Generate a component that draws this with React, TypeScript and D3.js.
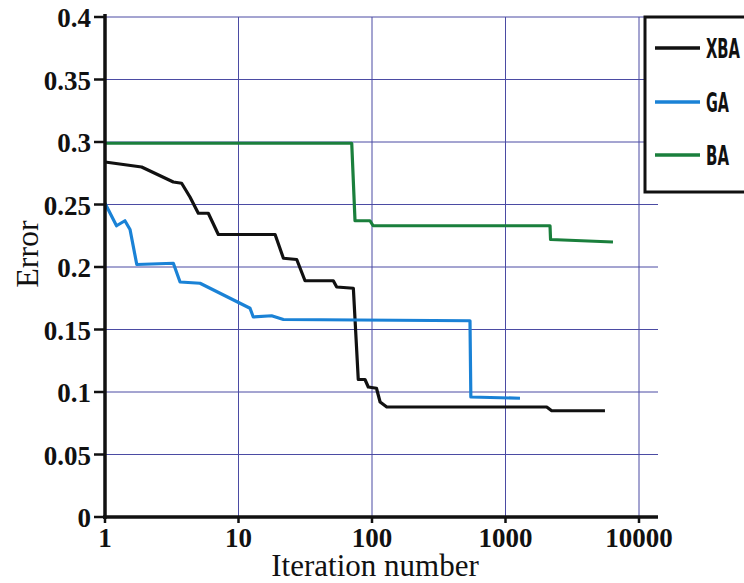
import React from "react";
import * as d3 from "d3";

const yTicks = [0, 0.05, 0.1, 0.15, 0.2, 0.25, 0.3, 0.35, 0.4];
const yTickLabels = ["0", "0.05", "0.1", "0.15", "0.2", "0.25", "0.3", "0.35", "0.4"];
const xTicks = [1, 10, 100, 1000, 10000];
const xTickLabels = ["1", "10", "100", "1000", "10000"];

const xbaX = [1, 1.88, 3.25, 3.75, 4.33, 5.0, 5.94, 7.06, 18.8, 21.7, 27.3, 31.5, 51.3, 54.4, 72.5, 78.9, 88.6, 93.8, 108, 115, 129, 2035, 2218, 5560];
const xbaY = [0.284, 0.28, 0.268, 0.267, 0.256, 0.243, 0.243, 0.226, 0.226, 0.207, 0.206, 0.189, 0.189, 0.184, 0.183, 0.11, 0.11, 0.104, 0.103, 0.092, 0.088, 0.088, 0.085, 0.085];

const gaX = [1, 1.22, 1.41, 1.54, 1.73, 3.25, 3.65, 5.15, 12.2, 12.9, 17.7, 21.7, 542, 550, 1284];
const gaY = [0.251, 0.233, 0.237, 0.23, 0.202, 0.203, 0.188, 0.187, 0.167, 0.16, 0.161, 0.158, 0.157, 0.096, 0.095];

const baX = [1, 70.5, 74.6, 96.6, 102, 2155, 2175, 6385];
const baY = [0.299, 0.299, 0.237, 0.237, 0.233, 0.233, 0.222, 0.22];

const seriesNames = ["XBA", "GA", "BA"];
const seriesColors = ["#111111", "#1a82d6", "#1a7f3c"];

export default function App() {
  const x = d3.scaleLog().domain([1, 10000]).range([105, 639]);
  const y = d3.scaleLinear().domain([0, 0.4]).range([517, 17]);
  const line = d3
    .line<[number, number]>()
    .x((d) => x(d[0]))
    .y((d) => y(d[1]));
  const series = [
    xbaX.map((v, i) => [v, xbaY[i]] as [number, number]),
    gaX.map((v, i) => [v, gaY[i]] as [number, number]),
    baX.map((v, i) => [v, baY[i]] as [number, number]),
  ];
  const gridColor = "#4b4ba3";
  const legendYs = [48, 102, 155];
  const legendLens = [34, 23, 23];
  const serif = "'Liberation Serif', 'Times New Roman', Times, serif";
  return (
    <svg
      width={744}
      height={583}
      style={{ position: "absolute", left: 0, top: 0, background: "#fff" }}
    >
      {yTicks.slice(1).map((t) => (
        <line key={"h" + t} x1={105} x2={658} y1={y(t)} y2={y(t)} stroke={gridColor} strokeWidth={1} />
      ))}
      {xTicks.slice(1).map((t) => (
        <line key={"v" + t} x1={x(t)} x2={x(t)} y1={17} y2={517} stroke={gridColor} strokeWidth={1} />
      ))}
      {series.map((s, i) => (
        <path key={i} d={line(s) || ""} fill="none" stroke={seriesColors[i]} strokeWidth={3.2} strokeLinejoin="round" />
      ))}
      <line x1={105} x2={105} y1={14} y2={519} stroke="#111" strokeWidth={3.5} />
      <line x1={103} x2={658} y1={517} y2={517} stroke="#111" strokeWidth={3.5} />
      {yTicks.map((t, i) => (
        <g key={"yt" + t}>
          <line x1={94} x2={105} y1={y(t)} y2={y(t)} stroke="#111" strokeWidth={2.5} />
          <text x={91} y={y(t) + 10} textAnchor="end" fontFamily={serif} fontWeight={700} fontSize={27} fill="#111">
            {yTickLabels[i]}
          </text>
        </g>
      ))}
      {xTicks.map((t, i) => (
        <g key={"xt" + t}>
          <line x1={x(t)} x2={x(t)} y1={517} y2={523} stroke="#111" strokeWidth={2.5} />
          <text x={x(t)} y={547} textAnchor="middle" fontFamily={serif} fontWeight={700} fontSize={27} fill="#111">
            {xTickLabels[i]}
          </text>
        </g>
      ))}
      <text x={375} y={576} textAnchor="middle" fontFamily={serif} fontSize={31} fill="#111">
        Iteration number
      </text>
      <text transform="translate(38,254) rotate(-90)" textAnchor="middle" fontFamily={serif} fontSize={32} fill="#111">
        Error
      </text>
      <rect x={645} y={17} width={120} height={175} fill="#fff" stroke="#111" strokeWidth={3} />
      {seriesNames.map((n, i) => (
        <g key={n}>
          <line x1={655} x2={700} y1={legendYs[i]} y2={legendYs[i]} stroke={seriesColors[i]} strokeWidth={3.5} />
          <text
            x={706}
            y={legendYs[i] + 10}
            fontFamily="'Liberation Sans Narrow', 'DejaVu Sans Condensed', sans-serif"
            fontWeight={700}
            fontSize={27}
            textLength={legendLens[i]}
            lengthAdjust="spacingAndGlyphs"
            fill="#111"
          >
            {n}
          </text>
        </g>
      ))}
    </svg>
  );
}
